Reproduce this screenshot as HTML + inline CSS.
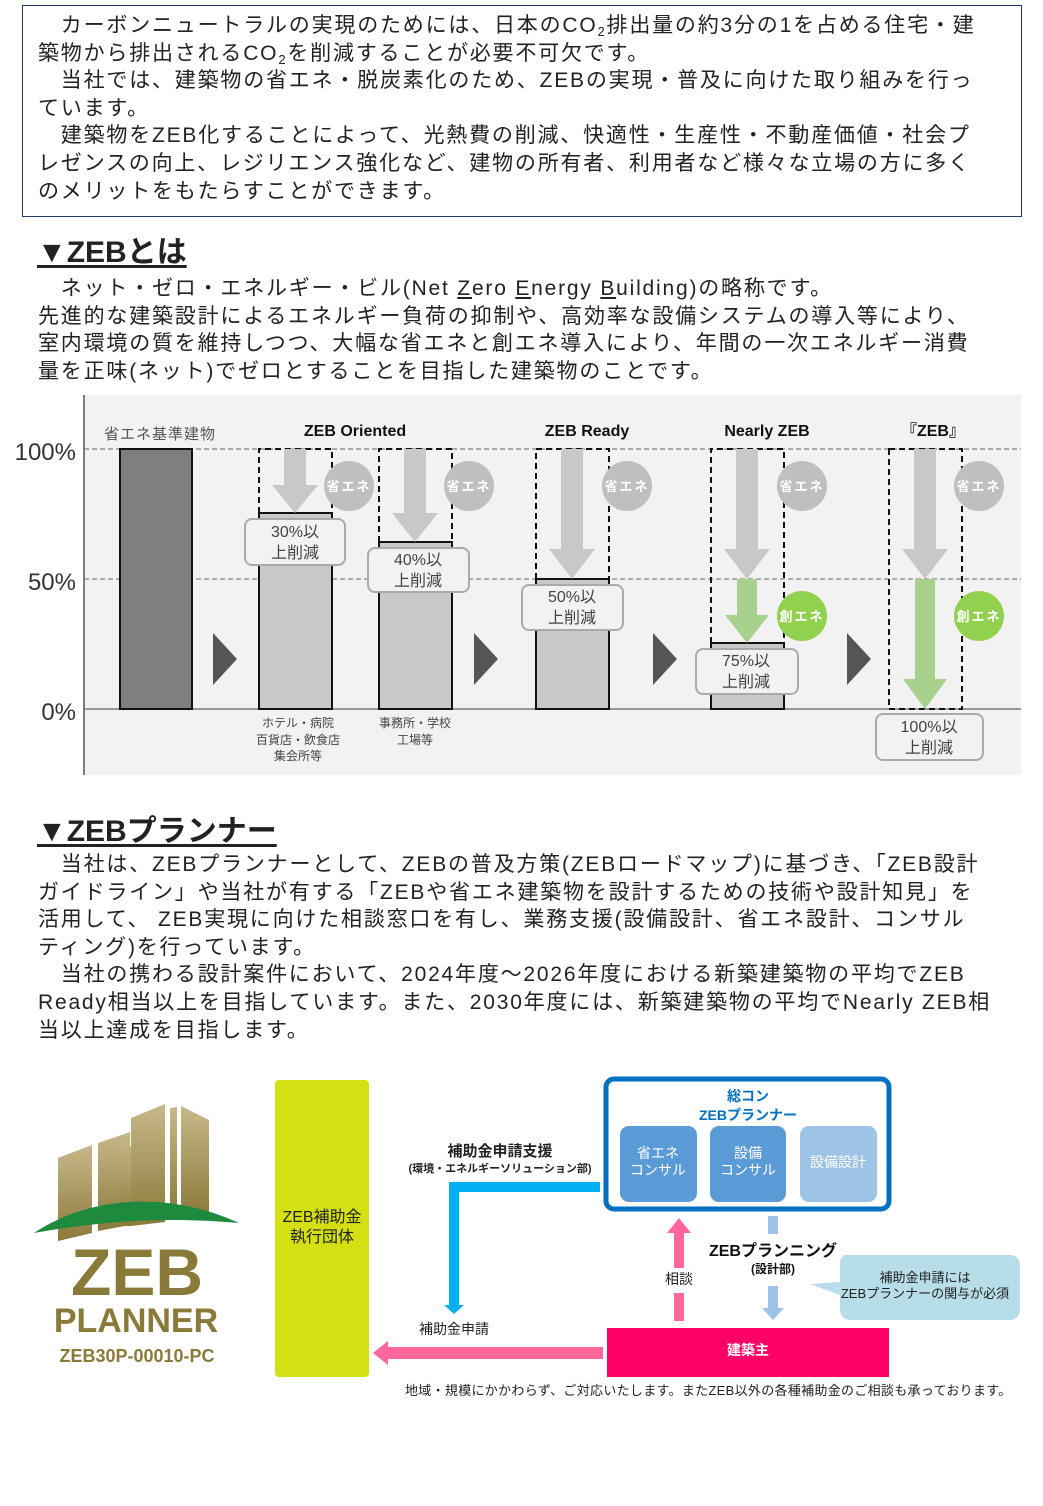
<!DOCTYPE html>
<html><head><meta charset="utf-8"><style>
*{margin:0;padding:0;box-sizing:border-box}
body{width:1043px;height:1506px;background:#fff;position:relative;font-family:"Liberation Sans","Noto Sans CJK JP",sans-serif;color:#222;overflow:hidden}
.a{position:absolute;white-space:nowrap}
.p{font-size:21px;line-height:27.6px;letter-spacing:1.8px}
sub{font-size:13px;line-height:0;vertical-align:-4px}
h2{position:absolute;font-size:30px;line-height:34px;font-weight:bold;text-decoration:underline;text-decoration-thickness:3px;text-underline-offset:3px;letter-spacing:0;white-space:nowrap}
</style></head><body>
<div class="a" style="left:22px;top:5px;width:1000px;height:212px;border:1.5px solid #1f3864"></div>
<div class="a p" style="left:38px;top:12px">　カーボンニュートラルの実現のためには、日本のCO<sub>2</sub>排出量の約3分の1を占める住宅・建<br>築物から排出されるCO<sub>2</sub>を削減することが必要不可欠です。<br>　当社では、建築物の省エネ・脱炭素化のため、ZEBの実現・普及に向けた取り組みを行っ<br>ています。<br>　建築物をZEB化することによって、光熱費の削減、快適性・生産性・不動産価値・社会プ<br>レゼンスの向上、レジリエンス強化など、建物の所有者、利用者など様々な立場の方に多く<br>のメリットをもたらすことができます。</div>
<h2 style="left:37px;top:236px">▼ZEBとは</h2>
<div class="a p" style="left:38px;top:275px">　ネット・ゼロ・エネルギー・ビル(Net <u>Z</u>ero <u>E</u>nergy <u>B</u>uilding)の略称です。<br>先進的な建築設計によるエネルギー負荷の抑制や、高効率な設備システムの導入等により、<br>室内環境の質を維持しつつ、大幅な省エネと創エネ導入により、年間の一次エネルギー消費<br>量を正味(ネット)でゼロとすることを目指した建築物のことです。</div>

<svg class="a" style="left:0;top:390px" width="1043" height="400" viewBox="0 390 1043 400" font-family="Liberation Sans, Noto Sans CJK JP, sans-serif">
<rect x="84" y="395" width="937" height="380" fill="#f2f2f2"/>
<line x1="84" y1="395" x2="84" y2="775" stroke="#555" stroke-width="1.5"/>
<line x1="84" y1="449" x2="1021" y2="449" stroke="#666" stroke-dasharray="5,3"/>
<line x1="84" y1="579" x2="1021" y2="579" stroke="#666" stroke-dasharray="5,3"/>
<line x1="84" y1="709" x2="1021" y2="709" stroke="#777" stroke-width="1.5"/>
<g font-size="24" fill="#333" text-anchor="end"><text x="76" y="460">100%</text><text x="76" y="590">50%</text><text x="76" y="720">0%</text></g>
<text x="104" y="439" font-size="15" fill="#555" letter-spacing="1">省エネ基準建物</text>
<g font-size="16" font-weight="bold" fill="#111" text-anchor="middle"><text x="355" y="436">ZEB Oriented</text><text x="587" y="436">ZEB Ready</text><text x="767" y="436">Nearly ZEB</text><text x="933" y="436">『ZEB』</text></g>
<rect x="120" y="449" width="72" height="260" fill="#7f7f7f" stroke="#111" stroke-width="2"/>
<g stroke="#111" stroke-width="2" fill="#c8c8c8">
<rect x="259" y="513" width="73" height="196"/><rect x="379" y="542" width="73" height="167"/>
<rect x="536" y="579" width="73" height="130"/><rect x="711" y="643" width="73" height="66"/>
</g>
<g stroke="#111" stroke-width="2" fill="none" stroke-dasharray="6,4">
<path d="M259 513V449H332V513"/><path d="M379 542V449H452V542"/><path d="M536 579V449H609V579"/><path d="M711 643V449H784V643"/><rect x="889" y="449" width="73" height="260"/>
</g>
<g fill="#c8c8c8">
<path d="M284 449h22v36h12l-23 28-23-28h12z"/><path d="M404 449h22v64h12l-23 29-23-29h12z"/><path d="M561 449h22v100h12l-23 30-23-30h12z"/><path d="M736 449h22v100h12l-23 30-23-30h12z"/><path d="M914 449h22v100h12l-23 30-23-30h12z"/>
</g>
<g fill="#a9d18e"><path d="M737 579h20v36h12l-22 28-22-28h12z"/><path d="M915 579h20v100h12l-22 30-22-30h12z"/></g>
<g fill="#bfbfbf"><circle cx="349" cy="486" r="25"/><circle cx="469" cy="486" r="25"/><circle cx="627" cy="486" r="25"/><circle cx="802" cy="486" r="25"/><circle cx="979" cy="486" r="25"/></g>
<g fill="#92d050"><circle cx="802" cy="616" r="25"/><circle cx="979" cy="616" r="25"/></g>
<g font-size="13" font-weight="bold" fill="#fff" text-anchor="middle" letter-spacing="2"><text x="349" y="491">省エネ</text><text x="469" y="491">省エネ</text><text x="627" y="491">省エネ</text><text x="802" y="491">省エネ</text><text x="979" y="491">省エネ</text><text x="802" y="621">創エネ</text><text x="979" y="621">創エネ</text></g>
<g fill="#f2f2f2" stroke="#aaa" stroke-width="2"><rect x="245" y="519" width="100" height="46" rx="7"/><rect x="368" y="548" width="101" height="44" rx="7"/><rect x="522" y="585" width="101" height="45" rx="7"/><rect x="696" y="649" width="102" height="45" rx="7"/><rect x="876" y="714" width="107" height="46" rx="7"/></g>
<g font-size="16" fill="#444" text-anchor="middle">
<text x="295" y="537">30%以</text><text x="295" y="558">上削減</text>
<text x="418" y="565">40%以</text><text x="418" y="586">上削減</text>
<text x="572" y="602">50%以</text><text x="572" y="623">上削減</text>
<text x="746" y="666">75%以</text><text x="746" y="687">上削減</text>
<text x="929" y="732">100%以</text><text x="929" y="753">上削減</text>
</g>
<g fill="#555"><path d="M213 633v52l24-26z"/><path d="M474 633v52l24-26z"/><path d="M653 633v52l24-26z"/><path d="M847 633v52l24-26z"/></g>
<g font-size="12" fill="#444" text-anchor="middle"><text x="298" y="727">ホテル・病院</text><text x="298" y="744">百貨店・飲食店</text><text x="298" y="760">集会所等</text><text x="415" y="727">事務所・学校</text><text x="415" y="744">工場等</text></g>
</svg>

<h2 style="left:37px;top:815px">▼ZEBプランナー</h2>
<div class="a p" style="left:38px;top:851px">　当社は、ZEBプランナーとして、ZEBの普及方策(ZEBロードマップ)に基づき、「ZEB設計<br>ガイドライン」や当社が有する「ZEBや省エネ建築物を設計するための技術や設計知見」を<br>活用して、 ZEB実現に向けた相談窓口を有し、業務支援(設備設計、省エネ設計、コンサル<br>ティング)を行っています。<br>　当社の携わる設計案件において、2024年度～2026年度における新築建築物の平均でZEB<br>Ready相当以上を目指しています。また、2030年度には、新築建築物の平均でNearly ZEB相<br>当以上達成を目指します。</div>

<svg class="a" style="left:0;top:1070px" width="1043" height="340" viewBox="0 1070 1043 340" font-family="Liberation Sans, Noto Sans CJK JP, sans-serif">
<defs><linearGradient id="g" x1="0" y1="0" x2="0" y2="1"><stop offset="0" stop-color="#c8b88a"/><stop offset="1" stop-color="#8a7a3a"/></linearGradient></defs>
<path d="M58 1158l34-13v88l-34 8z" fill="url(#g)"/>
<path d="M98 1143l32-11v93l-32 6z" fill="url(#g)"/>
<path d="M120 1136l12 12v78h-12z" fill="url(#g)"/>
<path d="M131 1118l34-14v118l-34 4z" fill="url(#g)"/>
<path d="M170 1108l7-1v110h-7z" fill="url(#g)"/>
<path d="M181 1106l28 14v92l-28 4z" fill="url(#g)"/>
<path d="M34 1233c60-40 140-40 205-10c-60-5-120-5-205 10z" fill="#1e8a3e"/>
<text x="137" y="1295" font-size="66" font-weight="bold" fill="#8a7a3a" text-anchor="middle">ZEB</text>
<text x="136" y="1332" font-size="34" font-weight="bold" fill="#8a7a3a" text-anchor="middle">PLANNER</text>
<text x="137" y="1362" font-size="18" font-weight="bold" fill="#8a7a3a" text-anchor="middle">ZEB30P-00010-PC</text>
<rect x="275" y="1080" width="94" height="297" rx="4" fill="#d4e012"/>
<text x="322" y="1222" font-size="16" fill="#222" text-anchor="middle">ZEB補助金</text><text x="322" y="1242" font-size="16" fill="#222" text-anchor="middle">執行団体</text>
<rect x="606" y="1079" width="283" height="130" rx="8" fill="#fff" stroke="#0070c0" stroke-width="5"/>
<text x="748" y="1101" font-size="14" font-weight="bold" fill="#0070c0" text-anchor="middle">総コン</text>
<text x="748" y="1120" font-size="14" font-weight="bold" fill="#0070c0" text-anchor="middle">ZEBプランナー</text>
<rect x="620" y="1126" width="77" height="76" rx="9" fill="#5b9bd5"/><rect x="710" y="1126" width="76" height="76" rx="9" fill="#5b9bd5"/><rect x="800" y="1126" width="77" height="76" rx="9" fill="#9dc3e6"/>
<g font-size="14" fill="#fff" text-anchor="middle"><text x="658" y="1158">省エネ</text><text x="658" y="1175">コンサル</text><text x="748" y="1158">設備</text><text x="748" y="1175">コンサル</text><text x="838" y="1167">設備設計</text></g>
<path d="M600 1182H449v126h10V1192H600z" fill="#00b0f0"/><path d="M444 1305h20l-10 9z" fill="#00b0f0"/>
<text x="500" y="1156" font-size="15" font-weight="bold" fill="#222" text-anchor="middle">補助金申請支援</text>
<text x="500" y="1172" font-size="11" font-weight="bold" fill="#222" text-anchor="middle">(環境・エネルギーソリューション部)</text>
<rect x="607" y="1328" width="282" height="49" fill="#ff0066"/>
<text x="748" y="1355" font-size="14" font-weight="bold" fill="#fff" text-anchor="middle">建築主</text>
<path d="M603 1347H388v-6l-15 12 15 12v-6h215z" fill="#ff6699"/>
<text x="454" y="1334" font-size="14" fill="#222" text-anchor="middle">補助金申請</text>
<path d="M674 1321v-28h10v28z M674 1268v-35h-7l12-15 12 15h-7v35z" fill="#ff6699"/>
<text x="679" y="1284" font-size="14" fill="#222" text-anchor="middle">相談</text>
<path d="M768 1216h10v18h-10z M768 1286h10v22h6l-11 12-11-12h6z" fill="#9dc3e6"/>
<text x="773" y="1256" font-size="16" font-weight="bold" fill="#111" text-anchor="middle">ZEBプランニング</text>
<text x="773" y="1273" font-size="12" font-weight="bold" fill="#111" text-anchor="middle">(設計部)</text>
<path d="M844 1255h166a10 10 0 0 1 10 10v45a10 10 0 0 1-10 10H850a10 10 0 0 1-10-10v-15l-30-11 30-2v-17a10 10 0 0 1 4-10z" fill="#b7dde8"/>
<text x="925" y="1282" font-size="13" fill="#222" text-anchor="middle">補助金申請には</text>
<text x="925" y="1298" font-size="13" fill="#222" text-anchor="middle">ZEBプランナーの関与が必須</text>
<text x="405" y="1395" font-size="13" fill="#222" letter-spacing="0.3">地域・規模にかかわらず、ご対応いたします。またZEB以外の各種補助金のご相談も承っております。</text>
</svg>
</body></html>
